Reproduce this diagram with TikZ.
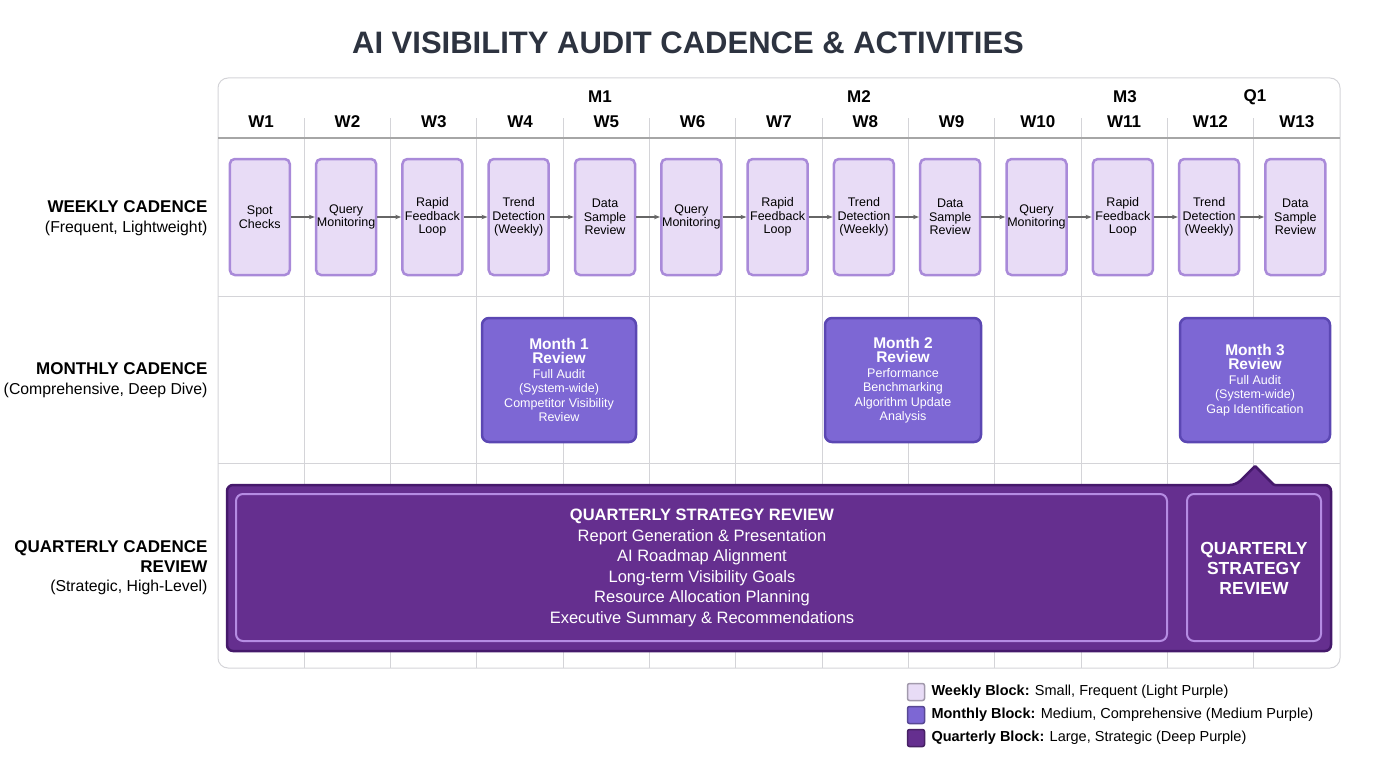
\documentclass[tikz,border=0pt]{standalone}
\usepackage{fontspec}
\setmainfont{Liberation Sans}
\usetikzlibrary{arrows.meta}
\definecolor{lf}{HTML}{E8DCF6}\definecolor{lb}{HTML}{A98AD9}
\definecolor{mf}{HTML}{7D67D4}\definecolor{mb}{HTML}{5B47B3}
\definecolor{df}{HTML}{652F8F}\definecolor{db}{HTML}{45196B}
\definecolor{dl}{HTML}{B58CE3}\definecolor{gl}{HTML}{D4D4D8}
\definecolor{tx}{HTML}{2D3340}
\newcommand{\mhd}[1]{{\bfseries\fontsize{15.5}{17}\selectfont #1}}
\begin{document}
\begin{tikzpicture}[x=1pt,y=-1pt,
 wk/.style={draw=lb,line width=2.5pt,fill=lf,rounded corners=5pt,minimum width=60pt,minimum height=116pt,align=center,font=\fontsize{12.5}{13.5}\selectfont,inner sep=0pt},
 mo/.style={draw=mb,line width=2.5pt,fill=mf,rounded corners=7pt,align=center,text=white,font=\fontsize{12.5}{14.5}\selectfont,inner sep=0pt},
 hd/.style={font=\bfseries\fontsize{17}{18}\selectfont,text=black},
 rl/.style={anchor=east,align=right,font=\fontsize{15.8}{19.5}\selectfont},
 ar/.style={-{Stealth[length=6pt]},draw=gray!80!black,line width=1.2pt},
 lg/.style={draw=#1!70!black,fill=#1,line width=1.5pt,rounded corners=2pt,minimum size=17pt,inner sep=0pt}]
\useasboundingbox (0,0) rectangle (1376,768);
\node[font=\bfseries\fontsize{31}{34}\selectfont,text=tx] (title) at (688,43) {AI VISIBILITY AUDIT CADENCE \& ACTIVITIES};
\draw[gl,line width=1pt,rounded corners=10pt] (218,78) rectangle (1340,668);
\foreach \i in {1,...,12}{\draw[gl,line width=1pt] (218+86.3*\i,118) -- (218+86.3*\i,668);}
\draw[gray!70,line width=1.2pt] (218,138) -- (1340,138);
\draw[gl,line width=1pt] (218,296) -- (1340,296);
\draw[gl,line width=1pt] (218,463) -- (1340,463);
\foreach \i in {1,...,13}{\node[hd] (w\i) at (218+86.3*\i-43.15,122) {W\i};}
\node[hd] (m1) at (600,97) {M1};
\node[hd] (m2) at (859,97) {M2};
\node[hd] (m3) at (1125,97) {M3};
\node[hd] (q1) at (1255,97) {Q1};
\node[rl] (r1) at (211,218) {\textbf{\fontsize{17}{19}\selectfont WEEKLY CADENCE}\\(Frequent, Lightweight)};
\node[rl] (r2) at (211,380) {\textbf{\fontsize{17}{19}\selectfont MONTHLY CADENCE}\\(Comprehensive, Deep Dive)};
\node[rl] (r3) at (211,568) {\textbf{\fontsize{17}{19}\selectfont QUARTERLY CADENCE}\\\textbf{\fontsize{17}{19}\selectfont REVIEW}\\(Strategic, High-Level)};
\foreach \i/\t in {1/{Spot\\Checks},2/{Query\\Monitoring},3/{Rapid\\Feedback\\Loop},4/{Trend\\Detection\\(Weekly)},5/{Data\\Sample\\Review},6/{Query\\Monitoring},7/{Rapid\\Feedback\\Loop},8/{Trend\\Detection\\(Weekly)},9/{Data\\Sample\\Review},10/{Query\\Monitoring},11/{Rapid\\Feedback\\Loop},12/{Trend\\Detection\\(Weekly)},13/{Data\\Sample\\Review}}
 {\node[wk] (b\i) at (218+86.3*\i-44.5,217) {\t};}
\foreach \i/\j in {1/2,2/3,3/4,4/5,5/6,6/7,7/8,8/9,9/10,10/11,11/12,12/13}{\draw[ar] (b\i) -- (b\j);}
\node[mo,minimum width=154pt,minimum height=124pt] (mb1) at (559,380) {\mhd{Month 1}\\\mhd{Review}\\Full Audit\\(System-wide)\\Competitor Visibility\\Review};
\node[mo,minimum width=156pt,minimum height=124pt] (mb2) at (903,380) {\mhd{Month 2}\\\mhd{Review}\\Performance\\Benchmarking\\Algorithm Update\\Analysis};
\node[mo,minimum width=150pt,minimum height=124pt] (mb3) at (1255,380) {\mhd{Month 3}\\\mhd{Review}\\Full Audit\\(System-wide)\\Gap Identification};
\draw[db,fill=df,line width=2.5pt,rounded corners=6pt] (227,485) -- (1236,485) [rounded corners=1pt] -- (1255,466) -- (1274,485) [rounded corners=6pt] -- (1331,485) -- (1331,651) -- (227,651) -- cycle;
\coordinate (notch) at (1255,466);
\draw[dl,line width=2pt,rounded corners=7pt] (236,494) rectangle (1167,641);
\draw[dl,line width=2pt,rounded corners=7pt] (1187,494) rectangle (1321,641);
\node[align=center,text=white,font=\fontsize{16.5}{20.5}\selectfont] (qs) at (702,568) {\textbf{QUARTERLY STRATEGY REVIEW}\\Report Generation \& Presentation\\AI Roadmap Alignment\\Long-term Visibility Goals\\Resource Allocation Planning\\Executive Summary \& Recommendations};
\node[align=center,text=white,font=\bfseries\fontsize{17.5}{20}\selectfont] (qs2) at (1254,568) {QUARTERLY\\STRATEGY\\REVIEW};
\node[lg=lf] (l1) at (916,692) {};
\node[lg=mf] (l2) at (916,715) {};
\node[lg=df] (l3) at (916,738) {};
\node[anchor=west,font=\fontsize{14.5}{16}\selectfont] (t1) at (928,692) {\textbf{Weekly Block:} Small, Frequent (Light Purple)};
\node[anchor=west,font=\fontsize{14.5}{16}\selectfont] (t2) at (928,715) {\textbf{Monthly Block:} Medium, Comprehensive (Medium Purple)};
\node[anchor=west,font=\fontsize{14.5}{16}\selectfont] (t3) at (928,738) {\textbf{Quarterly Block:} Large, Strategic (Deep Purple)};
\end{tikzpicture}
\end{document}
